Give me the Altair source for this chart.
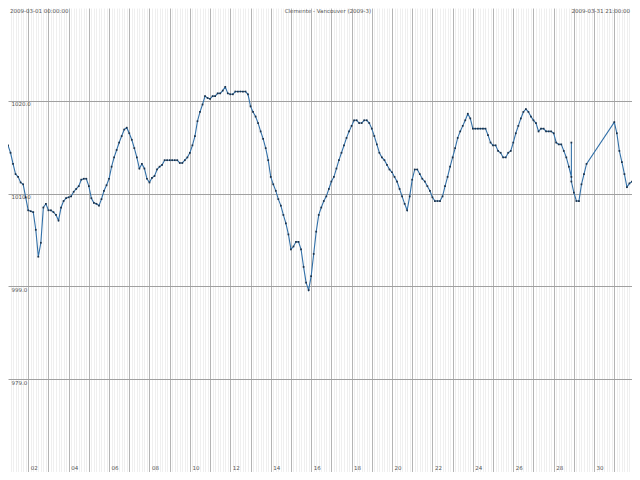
import altair as alt
import pandas as pd

TITLE = "Clemente - Vancouver (2009-3)"
START_LABEL = "2009-03-01 00:00:00"
END_LABEL = "2009-03-31 21:00:00"
START = "2009-03-01T00:00:00Z"
END = "2009-03-31T21:00:00Z"

# 3-hourly pressure readings (hPa); None = no reading
PRESSURE = [
    1015.2, 1014.4, 1013.2, 1012.1, 1011.8, 1011.2, 1011.0, 1009.6,
    1008.2, 1008.1, 1008.0, 1006.1, 1003.2, 1004.7, 1008.5, 1008.9,
    1008.2, 1008.2, 1008.0, 1007.7, 1007.1, 1008.5, 1009.2, 1009.5,
    1009.6, 1009.7, 1010.2, 1010.5, 1010.8, 1011.5, 1011.6, 1011.6,
    1010.8, 1009.5, 1009.0, 1008.9, 1008.7, 1009.4, 1010.3, 1010.9,
    1011.6, 1012.9, 1013.9, 1014.7, 1015.5, 1016.2, 1016.9, 1017.1,
    1016.5, 1015.8, 1014.9, 1013.9, 1012.7, 1013.2, 1012.7, 1011.6,
    1011.2, 1011.7, 1011.9, 1012.6, 1012.9, 1013.1, 1013.6, 1013.6,
    1013.6, 1013.6, 1013.6, 1013.6, 1013.3, 1013.3, 1013.6, 1013.9,
    1014.4, 1015.2, 1016.2, 1017.8, 1018.8, 1019.6, 1020.5, 1020.3,
    1020.2, 1020.5, 1020.5, 1020.8, 1020.8, 1021.1, 1021.5, 1020.8,
    1020.7, 1020.7, 1021.0, 1021.0, 1021.0, 1021.0, 1021.0, 1020.7,
    1019.4, 1018.8, 1018.3, 1017.6, 1016.7, 1015.9, 1014.9, 1013.6,
    1011.8, 1011.0, 1010.3, 1009.4, 1008.7, 1007.7, 1006.8, 1005.6,
    1004.0, 1004.3, 1004.8, 1004.8, 1004.0, 1002.1, 1000.4, 999.6,
    1001.1, 1003.5, 1005.9, 1007.7, 1008.5, 1009.2, 1009.7, 1010.5,
    1011.3, 1011.8, 1012.7, 1013.6, 1014.4, 1015.2, 1016.0, 1016.7,
    1017.3, 1017.9, 1017.9, 1017.6, 1017.6, 1017.9, 1017.9, 1017.6,
    1017.0, 1016.2, 1015.3, 1014.4, 1013.9, 1013.6, 1013.1, 1012.6,
    1012.3, 1011.8, 1011.3, 1010.5, 1009.7, 1008.9, 1008.2, 1009.7,
    1011.5, 1012.6, 1012.6, 1012.1, 1011.6, 1011.3, 1010.8, 1010.3,
    1009.6, 1009.2, 1009.2, 1009.2, 1009.7, 1010.8, 1011.8, 1012.9,
    1013.9, 1014.9, 1016.0, 1016.7, 1017.3, 1017.9, 1018.6, 1018.1,
    1017.0, 1017.0, 1017.0, 1017.0, 1017.0, 1017.0, 1016.3, 1015.5,
    1015.2, 1015.2, 1014.6, 1014.4, 1013.9, 1013.9, 1014.4, 1014.6,
    1015.5, 1016.5, 1017.3, 1018.1, 1018.8, 1019.1, 1018.8, 1018.3,
    1017.9, 1017.6, 1016.7, 1017.0, 1017.0, 1016.7, 1016.7, 1016.7,
    1016.5, 1015.5, 1015.3, 1015.3, 1014.6, 1013.9, 1012.9, 1011.8,
    1010.1, 1009.2, 1009.2, 1011.0, 1012.1, 1013.2, None, None,
    None, None, None, None, None, None, None, None,
    1017.7, 1016.5, 1014.6, 1013.4, 1012.1, 1010.7, 1011.1, 1011.3,
]

# extra readings logged at the same time stamp (the vertical jump)
SPIKE_INDEX = 223
SPIKE_VALUES = [1015.5, 1011.3]

Y_TICKS = [1020, 1010, 1000, 990]
Y_LABELS = ["1020.0", "1010.0", "999.0", "979.0"]

W, H = 624, 464

times = pd.date_range(START, periods=len(PRESSURE), freq="3h")
rows = []
for i, (t, v) in enumerate(zip(times, PRESSURE)):
    if v is None:
        continue
    ts = t.strftime("%Y-%m-%dT%H:%M:%SZ")
    rows.append({"time": ts, "p": v, "ord": i * 10})
    if i == SPIKE_INDEX:
        for k, sv in enumerate(SPIKE_VALUES):
            rows.append({"time": ts, "p": sv, "ord": i * 10 + k + 1})
df = pd.DataFrame(rows)


def ms(t):
    return int(pd.Timestamp(t).value // 10**6)


day_ticks = [ms(t) for t in pd.date_range("2009-03-02T00:00:00Z", "2009-03-31T00:00:00Z", freq="1D")]
fine_ticks = [ms(t) for t in pd.date_range(START, END, freq="3h") if t.hour != 0]

label_expr = " : ".join(
    f"datum.value == {v} ? '{s}'" for v, s in zip(Y_TICKS, Y_LABELS)
) + " : ''"

x_scale = alt.Scale(type="utc", domain=[ms(START), ms(END)], nice=False)
y_scale = alt.Scale(domain=[980, 1030], nice=False, zero=False)

FONT = "DejaVu Sans"

y_axis = alt.Axis(
    values=Y_TICKS, grid=True, gridColor="#a0a0a0", gridWidth=1,
    ticks=False, tickSize=0, domain=False, title=None,
    labelExpr=label_expr, labelAlign="left", labelPadding=-3,
    labelBaseline="top", labelOffset=1, labelFont=FONT, labelFontSize=5.5,
    labelColor="#555555",
)

main_x_axis = alt.Axis(
    values=day_ticks, grid=True, gridColor="#b4b4b4", gridWidth=1,
    ticks=False, tickSize=0, domain=False, title=None, orient="bottom",
    labelExpr="utcdate(datum.value) % 2 == 0 ? utcFormat(datum.value, '%d') : ''",
    labelAlign="left", labelBaseline="middle", labelPadding=-5, labelOffset=2,
    labelFlush=False, labelOverlap=False, labelBound=False,
    labelFont=FONT, labelFontSize=5.5, labelColor="#555555",
)

fine_x_axis = alt.Axis(
    values=fine_ticks, grid=True, gridColor="#efefef", gridWidth=1,
    ticks=False, tickSize=0, domain=False, labels=False, title=None, orient="top",
)

line = alt.Chart(df).mark_line(color="#3270a8", strokeWidth=1.1).encode(
    x=alt.X("time:T", scale=x_scale, axis=main_x_axis),
    y=alt.Y("p:Q", scale=y_scale, axis=y_axis),
    order="ord:Q",
)

points = alt.Chart(df).mark_point(
    shape="square", filled=True, size=3, color="#1c3148", opacity=1
).encode(
    x=alt.X("time:T", scale=x_scale, axis=fine_x_axis),
    y=alt.Y("p:Q", scale=y_scale, axis=y_axis),
)

top_texts = pd.DataFrame({"t": [START_LABEL, TITLE, END_LABEL]})


def top_text(label, xpos, align):
    return alt.Chart(alt.Data(values=[{"t": label}])).mark_text(
        align=align, baseline="top", font=FONT, fontSize=5.5, color="#555555"
    ).encode(x=alt.value(xpos), y=alt.value(1), text="t:N")


chart = alt.layer(
    line,
    points,
    top_text(top_texts.t[0], 2, "left"),
    top_text(top_texts.t[1], W / 2 + 8, "center"),
    top_text(top_texts.t[2], W - 2, "right"),
).resolve_axis(x="independent").properties(
    width=W, height=H, padding=0, background="white",
    autosize=alt.AutoSizeParams(type="none"),
).configure_view(stroke="transparent")

chart.save("out.html", embed_options={"renderer": "svg", "actions": False})
